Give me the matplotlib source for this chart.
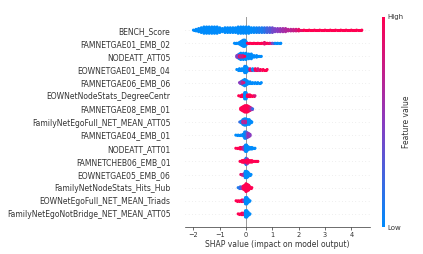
import matplotlib
matplotlib.use("Agg")
import matplotlib.pyplot as plt
from matplotlib.collections import LineCollection
from matplotlib.colors import LinearSegmentedColormap
from matplotlib.cm import ScalarMappable

# Feature names, top row first
features = [
    "BENCH_Score", "FAMNETGAE01_EMB_02", "NODEATT_ATT05", "EOWNETGAE01_EMB_04",
    "FAMNETGAE06_EMB_06", "EOWNetNodeStats_DegreeCentr", "FAMNETGAE08_EMB_01",
    "FamilyNetEgoFull_NET_MEAN_ATT05", "FAMNETGAE04_EMB_01", "NODEATT_ATT01",
    "FAMNETCHEB06_EMB_01", "EOWNETGAE05_EMB_06", "FamilyNetNodeStats_Hits_Hub",
    "EOWNetEgoFull_NET_MEAN_Triads", "FamilyNetEgoNotBridge_NET_MEAN_ATT05",
]
x_ticks = [-2, -1, 0, 1, 2, 3, 4]

# Each row: SHAP value, pile height at that value, feature value (0 low, 1 high)
shap_0 = [-2.0, -1.9, -1.8, -1.7, -1.6, -1.5, -1.4, -1.3, -1.2, -1.1, -1.0, -0.9, -0.8, -0.7, -0.6, -0.5,
          -0.4, -0.3, -0.2, -0.1, 0.0, 0.1, 0.2, 0.3, 0.4, 0.5, 0.6, 0.7, 0.8, 0.9, 1.0, 1.1, 1.2, 1.3,
          1.4, 1.5, 1.6, 1.7, 1.8, 1.9, 2.0, 2.2, 2.4, 2.6, 2.8, 3.0, 3.2, 3.4, 3.6, 3.8, 4.0, 4.2, 4.4]
pile_0 = [0, 1, 2, 3, 4, 4, 4, 4, 4, 4, 3, 2, 3, 3, 3, 3, 3, 4, 4, 4, 4, 4, 3, 3, 3, 3, 3, 3, 3, 3, 3, 2, 2, 2,
          2, 2, 1, 1, 1, 1, 1, 0, 0, 0, 0, 0, 0, 0, 0, 0, 0, 0, 0]
val_0 = [0, 0, 0, 0, 0, 0, 0, 0, 0, 0, 0, 0, 0, 0, 0, 0, 0, 0, 0, 0, 0, 0, 0, 0.02, 0.05, 0.08, 0.1, 0.15, 0.25,
         0.3, 0.4, 0.45, 0.5, 0.55, 0.6, 0.65, 0.7, 0.7, 0.75, 0.8, 0.9, 1, 1, 1, 1, 1, 1, 1, 1, 1, 1, 1, 1]

shap_1 = [-0.44, -0.35, -0.25, -0.2, -0.15, -0.1, -0.05, 0.0, 0.05, 0.15, 0.3, 0.45, 0.6, 0.7, 0.8, 0.9, 1.0,
          1.1, 1.2, 1.32]
pile_1 = [0, 0, 1, 2, 3, 4, 4, 2, 0, 0, 0, 0, 0, 1, 0, 0, 0, 0, 0, 0]
val_1 = [0, 0, 0, 0, 0, 0, 0, 0, 1, 1, 1, 1, 1, 0.9, 1, 0.85, 0.4, 0, 0, 0]

shap_2 = [-0.35, -0.3, -0.25, -0.2, -0.1, 0.0, 0.1, 0.2, 0.3, 0.4, 0.5, 0.58, -0.25, -0.2, -0.12, -0.05]
pile_2 = [1, 2, 3, 4, 4, 4, 3, 3, 1, 1, 0, 0, 1, 1, 1, 0]
val_2 = [0.5, 0.4, 0, 0, 0, 0, 0, 0, 0, 0, 0, 0, 0.9, 0.7, 0.8, 1]

shap_3 = [-0.35, -0.25, -0.15, -0.05, 0.0, 0.05, 0.15, 0.25, 0.35, 0.45, 0.55, 0.65, 0.8]
pile_3 = [0, 1, 1, 4, 4, 2, 1, 1, 1, 1, 0, 0, 0]
val_3 = [0, 0, 0, 0, 0, 0, 0.9, 0, 1, 0.8, 1, 1, 1]

shap_4 = [-0.25, -0.2, -0.15, -0.1, -0.05, 0.0, 0.05, 0.15, 0.25, 0.35, 0.45, 0.58, -0.15, -0.08]
pile_4 = [0, 1, 2, 3, 4, 3, 2, 1, 0, 0, 0, 0, 1, 0]
val_4 = [0.5, 0.5, 0, 0, 0, 0, 0, 0, 0, 0, 0, 0, 0.7, 0.8]

shap_5 = [-0.28, -0.2, -0.15, -0.1, -0.05, 0.0, 0.05, 0.1, 0.15, 0.2, 0.28, 0.34]
pile_5 = [0, 0, 1, 1, 4, 4, 1, 1, 1, 0, 0, 0]
val_5 = [1, 1, 1, 1, 0, 0, 1, 1, 1, 1, 1, 0.8]

shap_6 = [-0.2, -0.15, -0.1, -0.05, 0.0, 0.05, 0.1, 0.15, 0.2, 0.25]
pile_6 = [1, 2, 3, 4, 4, 4, 3, 2, 1, 0]
val_6 = [1, 1, 1, 1, 1, 1, 1, 0.9, 0.6, 0.2]

shap_7 = [-0.24, -0.18, -0.12, -0.06, 0.0, 0.06, 0.12, 0.18, 0.22, -0.12, -0.06, -0.02]
pile_7 = [0, 1, 3, 4, 4, 3, 3, 1, 0, 1, 1, 1]
val_7 = [0.2, 0, 0, 0, 0, 0, 0, 0, 0, 0.7, 0.6, 0.7]

shap_8 = [-0.39, -0.3, -0.2, -0.12, -0.05, 0.0, 0.05, 0.1, 0.15]
pile_8 = [0, 0, 0, 1, 4, 4, 3, 2, 1]
val_8 = [0, 0, 0, 0, 0, 0.1, 0.4, 0.6, 0.5]

shap_9 = [-0.39, -0.3, -0.22, -0.15, -0.08, -0.02, 0.02, 0.08, 0.15, 0.22, 0.28, 0.34]
pile_9 = [0, 0, 1, 1, 2, 4, 4, 2, 1, 1, 0, 0]
val_9 = [1, 1, 1, 0.9, 0.5, 0, 0, 0, 0, 0, 0, 0]

shap_10 = [-0.23, -0.15, -0.1, -0.05, 0.0, 0.05, 0.1, 0.15, 0.22, 0.3, 0.38, 0.45, -0.03, 0.02]
pile_10 = [0, 1, 1, 2, 4, 3, 1, 1, 1, 0, 0, 0, 1, 1]
val_10 = [1, 1, 1, 1, 0.1, 0.7, 1, 1, 1, 1, 1, 1, 1, 1]

shap_11 = [-0.2, -0.14, -0.08, -0.03, 0.02, 0.07, 0.12, 0.19]
pile_11 = [0, 0, 1, 4, 4, 3, 1, 0]
val_11 = [0.9, 0.8, 0.6, 0, 0, 0, 0, 0]

shap_12 = [-0.3, -0.22, -0.15, -0.1, -0.05, 0.0, 0.05, 0.1, 0.15, 0.22]
pile_12 = [0, 1, 1, 2, 3, 5, 4, 3, 1, 0]
val_12 = [0.1, 0.2, 0.6, 1, 1, 1, 1, 1, 1, 1]

shap_13 = [-0.38, -0.3, -0.22, -0.15, -0.08, -0.02, 0.03, 0.08, 0.15]
pile_13 = [0, 0, 0, 1, 1, 4, 4, 2, 0]
val_13 = [1, 1, 1, 1, 0.5, 0, 0, 0, 0]

shap_14 = [-0.3, -0.22, -0.15, -0.08, -0.02, 0.03, 0.08, 0.15]
pile_14 = [0, 0, 1, 1, 4, 4, 2, 0]
val_14 = [1, 1, 1, 0.8, 0, 0, 0, 0]

rows = [
    (shap_0, pile_0, val_0), (shap_1, pile_1, val_1), (shap_2, pile_2, val_2),
    (shap_3, pile_3, val_3), (shap_4, pile_4, val_4), (shap_5, pile_5, val_5),
    (shap_6, pile_6, val_6), (shap_7, pile_7, val_7), (shap_8, pile_8, val_8),
    (shap_9, pile_9, val_9), (shap_10, pile_10, val_10), (shap_11, pile_11, val_11),
    (shap_12, pile_12, val_12), (shap_13, pile_13, val_13), (shap_14, pile_14, val_14),
]

DARK = "#333333"
red_blue = LinearSegmentedColormap.from_list("red_blue", ["#008bfb", "#8a3cc0", "#ff0051"])

W, H = 423, 254
fig = plt.figure(figsize=(W / 100, H / 100), dpi=100)
ax = fig.add_axes([185 / W, 27 / H, 185 / W, 210 / H])

n_rows = len(features)
ax.axvline(0, color="#999999", lw=0.7, zorder=1)

for i, (xs, piles, vals) in enumerate(rows):
    y0 = n_rows - 1 - i
    ax.axhline(y0, color="#cccccc", lw=0.4, dashes=(1, 5), zorder=0)

    # join neighbouring points so the thin tails read as one solid run
    segs, seg_vals = [], []
    for j in range(len(xs) - 1):
        if xs[j + 1] > xs[j]:
            segs.append([(xs[j], y0), (xs[j + 1], y0)])
            seg_vals.append(vals[j])
    lines = LineCollection(segs, cmap=red_blue, linewidths=2.2, zorder=2)
    lines.set_array(seg_vals)
    lines.set_clim(0, 1)
    ax.add_collection(lines)

    px, py, pc = [], [], []
    for x, p, v in zip(xs, piles, vals):
        for k in range(-p, p + 1):
            px.append(x)
            py.append(y0 + k * 0.06)
            pc.append(v)
    dots = ax.scatter(px, py, c=pc, cmap=red_blue, vmin=0, vmax=1, s=4.8, linewidths=0, zorder=3)
    dots.set_snap(False)

ax.set_xlim(-2.32, 4.71)
ax.set_ylim(-1, n_rows)
ax.set_yticks(range(n_rows))
ax.set_yticklabels(features[::-1], fontsize=5.5, color=DARK)
ax.set_xticks(x_ticks)
ax.tick_params(axis="x", labelsize=4.8, colors=DARK, length=2, width=0.5, pad=1.5)
ax.tick_params(axis="y", length=0, pad=10.5)
ax.set_xlabel("SHAP value (impact on model output)", fontsize=5.5, color=DARK, labelpad=1.5)
for side in ["top", "left", "right"]:
    ax.spines[side].set_visible(False)
ax.spines["bottom"].set_color(DARK)
ax.spines["bottom"].set_linewidth(0.5)

# colour bar on the right
cax = fig.add_axes([381.5 / W, 27 / H, 3 / W, 210 / H])
cb = fig.colorbar(ScalarMappable(cmap=red_blue), cax=cax, ticks=[0, 1])
cb.ax.set_yticklabels(["Low", "High"], fontsize=5, color=DARK)
cb.ax.tick_params(length=0, pad=2)
cb.outline.set_visible(False)
cb.set_label("Feature value", fontsize=5.5, color=DARK, labelpad=-1)

fig.savefig("out.png", dpi=100)
